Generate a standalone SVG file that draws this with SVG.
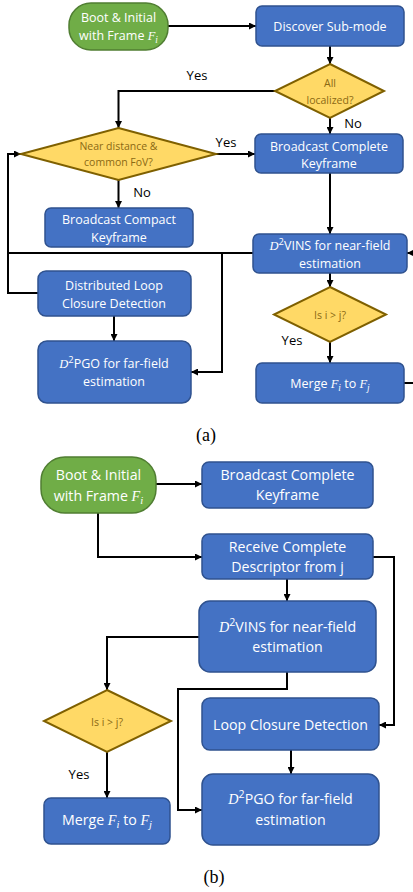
<svg xmlns="http://www.w3.org/2000/svg" width="413" height="892" viewBox="0 0 413 892">
<style>
.bx{fill:#4472C4;stroke:#2F528F;stroke-width:1.5}
.gr{fill:#70AD47;stroke:#507E32;stroke-width:1.5}
.dm{fill:#FFD966;stroke:#7F6000;stroke-width:2}
.t{font-family:"Open Sans","Noto Sans",sans-serif;fill:#fff;text-anchor:middle;font-size:12.5px}
.tb{font-size:14.2px}
.dt{font-family:"Open Sans","Noto Sans",sans-serif;fill:#8B6914;text-anchor:middle;font-size:10.5px}
.lb{font-family:"Open Sans","Noto Sans",sans-serif;fill:#000;text-anchor:middle;font-size:13px}
.m{font-family:"Liberation Serif","DejaVu Serif",serif;font-style:italic}
.s{font-size:75%}
.cap{font-family:"Liberation Serif",serif;font-size:18px;text-anchor:middle;fill:#000}
#conn path{fill:none;stroke:#000;stroke-width:2}
</style>
<defs>
<marker id="arr" viewBox="0 0 10 10" refX="10" refY="5" markerWidth="7" markerHeight="7" markerUnits="userSpaceOnUse" orient="auto"><path d="M0,0 L10,5 L0,10 z" fill="#000"/></marker>
</defs>

<g id="conn">
<path d="M168,26 H256" marker-end="url(#arr)"/>
<path d="M330,46 V64" marker-end="url(#arr)"/>
<path d="M275,91 H118.5 V128" marker-end="url(#arr)"/>
<path d="M216,154 H255" marker-end="url(#arr)"/>
<path d="M330,118 V134" marker-end="url(#arr)"/>
<path d="M118.5,180 V208" marker-end="url(#arr)"/>
<path d="M330,173 V234" marker-end="url(#arr)"/>
<path d="M38,293 H8 V154 H21" marker-end="url(#arr)"/>
<path d="M253,253 H8"/>
<path d="M222,253 V372 H191" marker-end="url(#arr)"/>
<path d="M114,316 V341" marker-end="url(#arr)"/>
<path d="M330,273 V287" marker-end="url(#arr)"/>
<path d="M330,342 V363" marker-end="url(#arr)"/>
<path d="M404,383 H414"/>
<path d="M415,253 H407" marker-end="url(#arr)"/>

<path d="M156,484 H202" marker-end="url(#arr)"/>
<path d="M98,513 V557 H202" marker-end="url(#arr)"/>
<path d="M373,557 H394 V725 H379" marker-end="url(#arr)"/>
<path d="M287,579 V601" marker-end="url(#arr)"/>
<path d="M199,637 H107 V690" marker-end="url(#arr)"/>
<path d="M287,672 V689 H178 V810 H202" marker-end="url(#arr)"/>
<path d="M107,752 V798" marker-end="url(#arr)"/>
<path d="M291,750 V774" marker-end="url(#arr)"/>
</g>

<g id="labels">
<text class="lb" x="197" y="80">Yes</text>
<text class="lb" x="353" y="128">No</text>
<text class="lb" x="226" y="147">Yes</text>
<text class="lb" x="142" y="197">No</text>
<text class="lb" x="292" y="345">Yes</text>
<text class="lb" x="79" y="779">Yes</text>
<text class="cap" x="206" y="441">(a)</text>
<text class="cap" x="214" y="883">(b)</text>
</g>

<g id="a_boot"><rect class="gr" x="69" y="3" width="99" height="47" rx="22"/>
<text class="t" x="118.5" y="22">Boot &amp; Initial</text>
<text class="t" x="118.5" y="40">with Frame <tspan class="m">F</tspan><tspan class="m s" dy="3">i</tspan></text></g>

<g id="a_discover"><rect class="bx" x="256" y="6" width="148" height="40" rx="6"/>
<text class="t" x="330" y="30.5">Discover Sub-mode</text></g>

<g id="a_alloc"><polygon class="dm" points="330,64 384,91 330,118 275,91"/>
<text class="dt" x="330" y="87">All</text>
<text class="dt" x="330" y="104">localized?</text></g>

<g id="a_near"><polygon class="dm" points="118.5,128 216,154 118.5,180 21,154"/>
<text class="dt" x="118.5" y="150">Near distance &amp;</text>
<text class="dt" x="118.5" y="166">common FoV?</text></g>

<g id="a_bcomplete"><rect class="bx" x="255" y="134" width="148" height="39" rx="6"/>
<text class="t" x="329" y="150.5">Broadcast Complete</text>
<text class="t" x="329" y="168">Keyframe</text></g>

<g id="a_bcompact"><rect class="bx" x="45" y="208" width="148" height="39" rx="6"/>
<text class="t" x="119" y="223.5">Broadcast Compact</text>
<text class="t" x="119" y="241.5">Keyframe</text></g>

<g id="a_vins"><rect class="bx" x="253" y="234" width="154" height="39" rx="6"/>
<text class="t" x="330" y="249.5"><tspan class="m">D</tspan><tspan class="s" dy="-5">2</tspan><tspan dy="5">VINS for near-field</tspan></text>
<text class="t" x="330" y="268">estimation</text></g>

<g id="a_loop"><rect class="bx" x="38" y="271" width="153" height="45" rx="8"/>
<text class="t" x="114" y="289.5">Distributed Loop</text>
<text class="t" x="114" y="307.5">Closure Detection</text></g>

<g id="a_pgo"><rect class="bx" x="38" y="341" width="153" height="62" rx="9"/>
<text class="t" x="114" y="367.5"><tspan class="m">D</tspan><tspan class="s" dy="-5">2</tspan><tspan dy="5">PGO for far-field</tspan></text>
<text class="t" x="114" y="385.5">estimation</text></g>

<g id="a_isij"><polygon class="dm" points="330,287 386,314.5 330,342 274,314.5"/>
<text class="dt" x="330" y="319">Is i &gt; j?</text></g>

<g id="a_merge"><rect class="bx" x="256" y="363" width="148" height="40" rx="6"/>
<text class="t" x="330" y="387.5">Merge <tspan class="m">F</tspan><tspan class="m s" dy="3">i</tspan><tspan dy="-3"> to </tspan><tspan class="m">F</tspan><tspan class="m s" dy="3">j</tspan></text></g>

<g id="b_boot"><rect class="gr" x="41" y="457" width="115" height="56" rx="24"/>
<text class="t tb" x="98.5" y="480">Boot &amp; Initial</text>
<text class="t tb" x="98.5" y="501">with Frame <tspan class="m">F</tspan><tspan class="m s" dy="3">i</tspan></text></g>

<g id="b_bcomplete"><rect class="bx" x="202" y="462" width="171" height="46" rx="7"/>
<text class="t tb" x="287.5" y="480">Broadcast Complete</text>
<text class="t tb" x="287.5" y="500">Keyframe</text></g>

<g id="b_receive"><rect class="bx" x="202" y="534" width="171" height="45" rx="7"/>
<text class="t tb" x="287.5" y="552">Receive Complete</text>
<text class="t tb" x="287.5" y="572">Descriptor from j</text></g>

<g id="b_vins"><rect class="bx" x="199" y="601" width="177" height="71" rx="11"/>
<text class="t tb" x="287.5" y="632"><tspan class="m">D</tspan><tspan class="s" dy="-6">2</tspan><tspan dy="6">VINS for near-field</tspan></text>
<text class="t tb" x="287.5" y="652">estimation</text></g>

<g id="b_isij"><polygon class="dm" points="107,690 171,721 107,752 44,721"/>
<text class="dt" x="107" y="726">Is i &gt; j?</text></g>

<g id="b_loop"><rect class="bx" x="202" y="698" width="177" height="52" rx="8"/>
<text class="t tb" x="290.5" y="730">Loop Closure Detection</text></g>

<g id="b_merge"><rect class="bx" x="44" y="798" width="126" height="46" rx="7"/>
<text class="t tb" x="107" y="825">Merge <tspan class="m">F</tspan><tspan class="m s" dy="3">i</tspan><tspan dy="-3"> to </tspan><tspan class="m">F</tspan><tspan class="m s" dy="3">j</tspan></text></g>

<g id="b_pgo"><rect class="bx" x="202" y="774" width="177" height="71" rx="11"/>
<text class="t tb" x="290.5" y="804"><tspan class="m">D</tspan><tspan class="s" dy="-6">2</tspan><tspan dy="6">PGO for far-field</tspan></text>
<text class="t tb" x="290.5" y="825">estimation</text></g>
</svg>
